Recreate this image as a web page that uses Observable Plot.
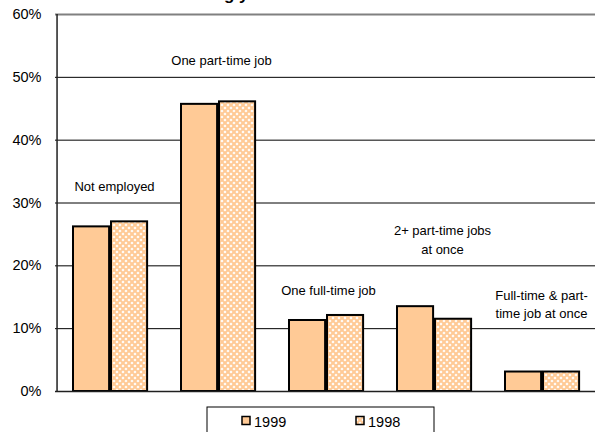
<!DOCTYPE html>
<html><head><meta charset="utf-8">
<script src="https://cdn.jsdelivr.net/npm/d3@7"></script>
<script src="https://cdn.jsdelivr.net/npm/@observablehq/plot@0.6"></script>
<style>
body{margin:0;background:#fff;overflow:hidden;}
#chart svg{display:block;font-family:"Liberation Sans",Arial,sans-serif;}
</style>
</head><body><div id="chart"></div>
<script>
// ---- data ----
const categories = ["Not employed","One part-time job","One full-time job","2+ part-time jobs at once","Full-time & part-time job at once"];
const labelLines = [["Not employed"],["One part-time job"],["One full-time job"],["2+ part-time jobs","at once"],["Full-time & part-","time job at once"]];
const values1999 = [0.262, 0.457, 0.113, 0.135, 0.031];
const values1998 = [0.270, 0.461, 0.121, 0.115, 0.031];
const seriesNames = ["1999", "1998"];
const yTicks = [0, 0.1, 0.2, 0.3, 0.4, 0.5, 0.6];
const titleText = "Student working year";

// ---- build ----
const rows1999 = categories.map((c, i) => ({category: c, value: values1999[i]}));
const rows1998 = categories.map((c, i) => ({category: c, value: values1998[i]}));
// label anchor (value units) per category
const labelY = [0.326, 0.526, 0.161, 0.256, 0.153];
const labelDx = [3, 2, 1, 7, -2];

const peach = "#FFCA96";

const labelMarks = categories.map((c, i) =>
  Plot.text(labelLines[i].map((t, j) => ({category: c, text: t, y: labelY[i] - j * 0.03})),
    {x: "category", y: "y", text: "text", dx: labelDx[i], fontSize: 13, fill: "#000", textAnchor: "middle"}));

const plot = Plot.plot({
  width: 595,
  height: 432,
  marginTop: 14,
  marginBottom: 41,
  marginLeft: 55,
  marginRight: 0,
  style: {fontFamily: '"Liberation Sans", Arial, sans-serif', background: "white"},
  x: {domain: categories, range: [55, 599.5], padding: 0, axis: null},
  y: {domain: [0, 0.6], label: null},
  marks: [
    Plot.ruleY(yTicks.filter(d => d > 0 && d < 0.6), {stroke: "#000", strokeWidth: 1}),
    Plot.ruleY([0.6], {stroke: "#808080", strokeWidth: 2}),
    Plot.axisY({ticks: yTicks, tickFormat: d => Math.round(d * 100) + "%", tickSize: 0, tickPadding: 14, fontSize: 14.5, fill: "#000", label: null}),
    Plot.barY(rows1999, {x: "category", y: "value", fill: peach, stroke: "#000", strokeWidth: 2, insetLeft: 16, insetRight: 55.9}),
    Plot.barY(rows1998, {x: "category", y: "value", fill: "url(#lattice)", stroke: "#000", strokeWidth: 2, insetLeft: 54, insetRight: 17.9}),
    Plot.ruleY([0], {stroke: "#202020", strokeWidth: 1.5}),
    Plot.ruleX([0], {x: () => categories[0], dx: -54.45, y1: 0, y2: 0.6, stroke: "#202020", strokeWidth: 1.5}),
    ...labelMarks
  ]
});

document.getElementById("chart").appendChild(plot);
const svg = d3.select(plot);

// defs pattern for 1998
const defs = svg.insert("defs", ":first-child");
const pat = defs.append("pattern").attr("id", "lattice").attr("patternUnits", "userSpaceOnUse")
  .attr("width", 6).attr("height", 6);
pat.append("rect").attr("width", 6).attr("height", 6).attr("fill", "#fff");
pat.append("path").attr("d", "M0,0L6,6M6,0L0,6").attr("stroke", peach).attr("stroke-width", 2);
pat.append("path").attr("d", "M-3,3L0,0M3,9L9,3M-3,3L3,9M3,-3L9,3").attr("stroke", peach).attr("stroke-width", 2);

// title (only descenders visible, clipped at top)
const title = svg.append("text").attr("x", 0).attr("y", -0.5).attr("text-anchor", "start")
  .attr("font-size", 17).attr("font-weight", "bold").attr("fill", "#000").text(titleText);
const gi = titleText.indexOf("g y");
const gx = title.node().getStartPositionOfChar(gi).x;
title.attr("x", 224 - gx);

// legend
const lg = svg.append("g").attr("text-anchor", "start");
lg.append("rect").attr("x", 207).attr("y", 407).attr("width", 227).attr("height", 30)
  .attr("fill", "#fff").attr("stroke", "#000").attr("stroke-width", 1);
const items = [{name: seriesNames[0], fill: peach, x: 242}, {name: seriesNames[1], fill: "url(#lattice)", x: 356}];
items.forEach(it => {
  lg.append("rect").attr("x", it.x).attr("y", 416.5).attr("width", 8).attr("height", 8)
    .attr("fill", it.fill).attr("stroke", "#000").attr("stroke-width", 1.5);
  lg.append("text").attr("x", it.x + 12).attr("y", 426.5).attr("text-anchor", "start")
    .attr("font-size", 14.5).attr("fill", "#000").text(it.name);
});
</script>
</body></html>
